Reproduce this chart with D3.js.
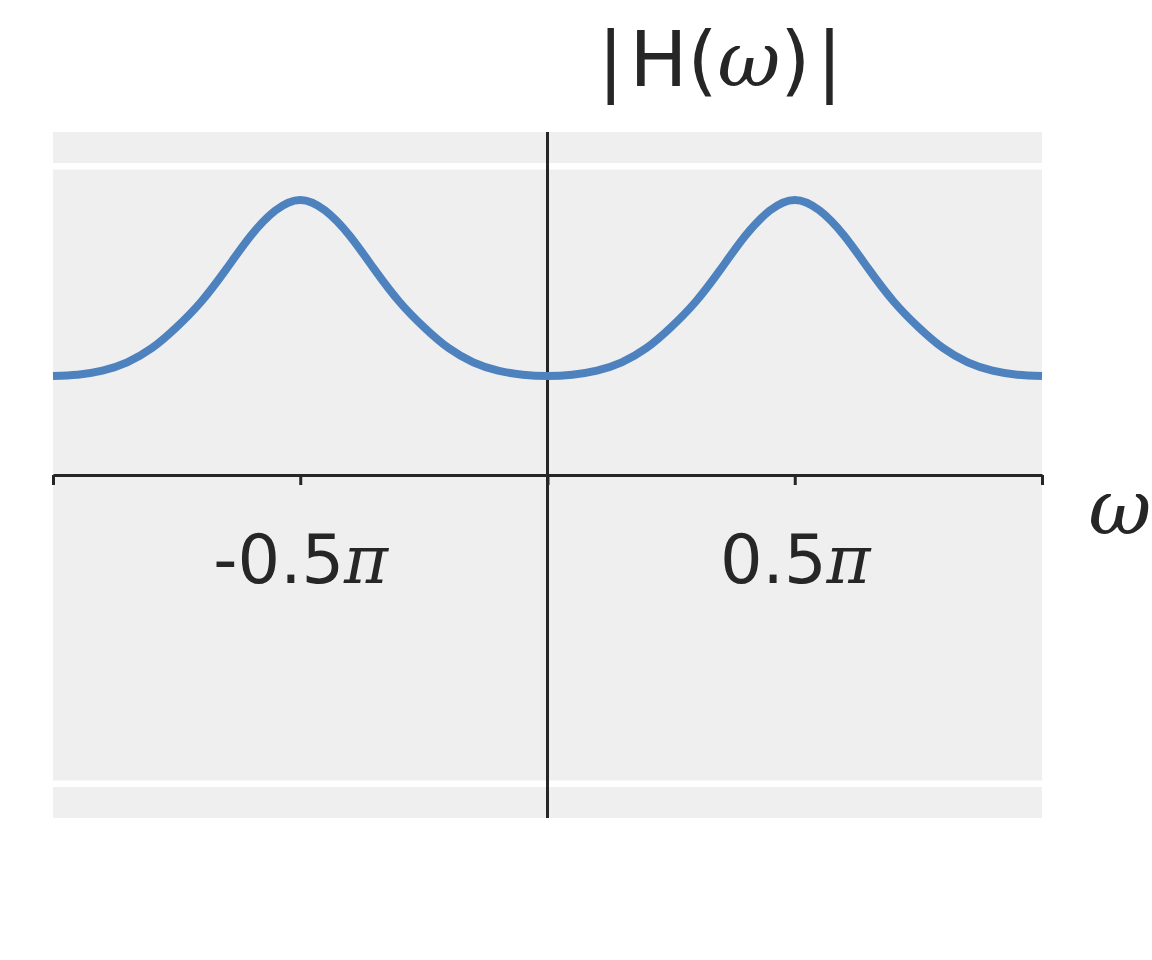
<!DOCTYPE html>
<html>
<head>
<meta charset="utf-8">
<script src="https://cdn.jsdelivr.net/npm/d3@7"></script>
<style>
    body { margin: 0; background: #ffffff; }
</style>
</head>
<body>
<div id="chart-area"></div>
<script>
// omega in units of pi, every 0.05
const omega = [
    -1.00, -0.95, -0.90, -0.85, -0.80, -0.75, -0.70, -0.65, -0.60, -0.55, -0.50,
    -0.45, -0.40, -0.35, -0.30, -0.25, -0.20, -0.15, -0.10, -0.05, 0.00,
    0.05, 0.10, 0.15, 0.20, 0.25, 0.30, 0.35, 0.40, 0.45, 0.50,
    0.55, 0.60, 0.65, 0.70, 0.75, 0.80, 0.85, 0.90, 0.95, 1.00
];
// |H(w)| values
const magnitude = [
    0.321, 0.325, 0.338, 0.365, 0.411, 0.479, 0.562, 0.666, 0.775, 0.857, 0.891,
    0.857, 0.775, 0.666, 0.562, 0.479, 0.411, 0.365, 0.338, 0.325, 0.321,
    0.325, 0.338, 0.365, 0.411, 0.479, 0.562, 0.666, 0.775, 0.857, 0.891,
    0.857, 0.775, 0.666, 0.562, 0.479, 0.411, 0.365, 0.338, 0.325, 0.321
];
const xTicks = [-1, -0.5, 0, 0.5, 1];
const xTickLabels = ['', '-0.5', '', '0.5', ''];
const yGrid = [-1, 1];

const textColor = '#262626';
const lineColor = '#4e82bf';

// plot area in page pixels
const plot = { left: 53, right: 1042, top: 132, bottom: 818 };

const svg = d3.select('#chart-area').append('svg')
    .attr('width', 1152)
    .attr('height', 960)

const x = d3.scaleLinear()
    .domain([-1, 1])
    .range([plot.left, plot.right]);

const y = d3.scaleLinear()
    .domain([-1.111, 1.111])
    .range([plot.bottom, plot.top]);

// grey background
svg.append('rect')
    .attr('x', plot.left)
    .attr('y', plot.top)
    .attr('width', plot.right - plot.left)
    .attr('height', plot.bottom - plot.top)
    .attr('fill', '#efefef')

// white horizontal grid lines
svg.append('g').selectAll('line')
    .data(yGrid)
    .enter().append('line')
    .attr('x1', plot.left)
    .attr('x2', plot.right)
    .attr('y1', d => y(d))
    .attr('y2', d => y(d))
    .attr('stroke', '#ffffff')
    .attr('stroke-width', 6.5)

// vertical axis through zero
svg.append('line')
    .attr('x1', x(0))
    .attr('x2', x(0))
    .attr('y1', plot.top)
    .attr('y2', plot.bottom)
    .attr('stroke', textColor)
    .attr('stroke-width', 3)

// horizontal axis through zero
const xAxisCall = d3.axisBottom(x)
    .tickValues(xTicks)
    .tickSize(10)
    .tickSizeOuter(0)
    .tickFormat((d, i) => xTickLabels[i])

const xAxisGroup = svg.append('g')
    .attr('transform', `translate(0, ${y(0)})`)
    .call(xAxisCall)

xAxisGroup.select('.domain')
    .attr('stroke', textColor)
    .attr('stroke-width', 3)
xAxisGroup.selectAll('.tick line')
    .attr('stroke', textColor)
    .attr('stroke-width', 3)

// tick labels: number in sans, pi in serif italic
xAxisGroup.selectAll('.tick text')
    .attr('fill', textColor)
    .attr('y', 108)
    .attr('dy', 0)
    .attr('font-family', 'DejaVu Sans')
    .attr('font-size', 67)
    .each(function (d, i) {
        const label = xTickLabels[i];
        const t = d3.select(this).text(null);
        if (!label) return;
        t.append('tspan').text(label);
        t.append('tspan')
            .attr('font-family', 'DejaVu Serif')
            .attr('font-style', 'italic')
            .text('π');
    })

// the curve
const points = omega.map((w, i) => [w, magnitude[i]]);
const line = d3.line()
    .x(d => x(d[0]))
    .y(d => y(d[1]))
    .curve(d3.curveNatural)

svg.append('path')
    .datum(points)
    .attr('d', line)
    .attr('fill', 'none')
    .attr('stroke', lineColor)
    .attr('stroke-width', 8)

// title |H(w)|
const title = svg.append('text')
    .attr('x', 720)
    .attr('y', 86)
    .attr('text-anchor', 'middle')
    .attr('font-family', 'DejaVu Sans')
    .attr('font-size', 77)
    .attr('fill', textColor)
title.append('tspan').text('|')
title.append('tspan').attr('dx', 6).text('H(')
title.append('tspan')
    .attr('font-family', 'DejaVu Serif')
    .attr('font-style', 'italic')
    .text('ω')
title.append('tspan').text(')')
title.append('tspan').attr('dx', 6).text('|')

// x label
svg.append('text')
    .attr('x', 1120)
    .attr('y', 534)
    .attr('text-anchor', 'middle')
    .attr('font-family', 'DejaVu Serif')
    .attr('font-style', 'italic')
    .attr('font-size', 77)
    .attr('fill', textColor)
    .text('ω')
</script>
</body>
</html>
